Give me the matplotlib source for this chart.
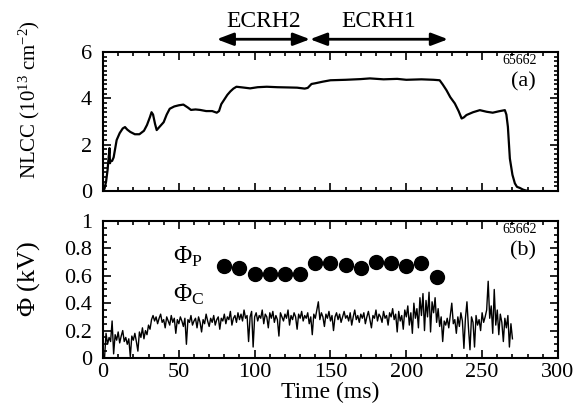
import matplotlib
matplotlib.use('Agg')
import matplotlib.pyplot as plt
from matplotlib.ticker import MultipleLocator

plt.rcParams['font.family'] = ['Liberation Serif', 'DejaVu Serif']
plt.rcParams['mathtext.fontset'] = 'custom'
plt.rcParams['mathtext.rm'] = 'Liberation Serif'
plt.rcParams['mathtext.it'] = 'Liberation Serif:italic'

# NLCC trace (panel a)
nlcc_t = [0, 1, 2, 3, 3.5, 4.3, 4.6, 5, 6, 7, 9, 11, 13, 14.5, 16, 18, 21, 24, 27, 29,
          31, 32, 33, 34.3, 35.4, 37, 40, 42, 44, 47, 50, 53, 56, 58, 61, 64, 68, 72, 75, 76.5,
          78, 80, 82, 84, 86, 88, 92, 97, 102, 108, 115, 122, 128, 133, 135, 137.5, 140, 145, 150, 160,
          170, 176, 185, 194, 200, 210, 218, 222, 224, 226.5, 229, 232, 234.5, 236.5, 238, 239.7, 244, 248.5, 253, 257,
          261, 265, 266, 267, 268.3, 270, 271.6, 273, 275, 277, 279, 281]
nlcc = [0.0, 0.1, 0.4, 0.9, 1.3, 1.85, 1.2, 1.3, 1.3, 1.45, 2.2, 2.5, 2.7, 2.76, 2.65, 2.55, 2.45, 2.45, 2.6, 2.85,
        3.2, 3.4, 3.3, 2.9, 2.63, 2.75, 2.97, 3.3, 3.55, 3.65, 3.7, 3.73, 3.6, 3.5, 3.52, 3.5, 3.45, 3.45, 3.38, 3.45,
        3.75, 3.95, 4.15, 4.3, 4.42, 4.5, 4.47, 4.43, 4.48, 4.5, 4.48, 4.47, 4.46, 4.42, 4.45, 4.62, 4.65, 4.72, 4.78, 4.8,
        4.83, 4.86, 4.82, 4.84, 4.8, 4.82, 4.8, 4.78, 4.6, 4.35, 4.05, 3.78, 3.45, 3.13, 3.18, 3.28, 3.4, 3.49, 3.42, 3.38,
        3.44, 3.49, 3.3, 2.77, 1.4, 0.7, 0.33, 0.18, 0.13, 0.06, 0.02, 0.0]

# plasma potential points (panel b)
phi_p_t = [80, 90, 100, 110, 120, 130, 140, 150, 160, 170, 180, 190, 200, 210, 220]
phi_p = [0.67, 0.66, 0.61, 0.61, 0.61, 0.61, 0.69, 0.69, 0.68, 0.66, 0.70, 0.69, 0.67, 0.69, 0.59]

# central potential trace, one sample per ms from t = 1 ms
phi_c_t = list(range(1, 271))
phi_c = [0.00, 0.18, 0.10, 0.15, 0.12, 0.27, 0.03, 0.17, 0.13, 0.19,
         0.11, 0.16, 0.20, 0.12, 0.15, 0.10, 0.14, 0.01, 0.16, 0.13,
         0.18, 0.12, 0.05, 0.19, 0.15, 0.22, 0.14, 0.20, 0.17, 0.24,
         0.21, 0.28, 0.31, 0.27, 0.30, 0.25, 0.29, 0.32, 0.26, 0.28,
         0.22, 0.30, 0.27, 0.24, 0.31, 0.26, 0.29, 0.18, 0.28, 0.25,
         0.30, 0.27, 0.23, 0.29, 0.10, 0.28, 0.26, 0.31, 0.24, 0.27,
         0.29, 0.22, 0.30, 0.26, 0.19, 0.28, 0.25, 0.32, 0.27, 0.23,
         0.29, 0.26, 0.31, 0.24, 0.28, 0.30, 0.21, 0.29, 0.27, 0.32,
         0.25, 0.30, 0.28, 0.34, 0.24, 0.29, 0.31, 0.26, 0.33, 0.28,
         0.32, 0.27, 0.35, 0.29, 0.31, 0.12, 0.30, 0.34, 0.08, 0.30,
         0.33, 0.27, 0.31, 0.29, 0.35, 0.25, 0.32, 0.30, 0.22, 0.33,
         0.29, 0.34, 0.26, 0.31, 0.28, 0.16, 0.33, 0.30, 0.27, 0.32,
         0.29, 0.35, 0.24, 0.31, 0.28, 0.33, 0.30, 0.21, 0.32, 0.29,
         0.34, 0.27, 0.31, 0.29, 0.33, 0.25, 0.30, 0.17, 0.32, 0.29,
         0.35, 0.41, 0.28, 0.33, 0.30, 0.23, 0.32, 0.29, 0.34, 0.27,
         0.31, 0.20, 0.30, 0.33, 0.28, 0.32, 0.26, 0.30, 0.34, 0.29,
         0.31, 0.27, 0.33, 0.24, 0.30, 0.35, 0.28, 0.31, 0.26, 0.32,
         0.29, 0.33, 0.25, 0.30, 0.34, 0.28, 0.22, 0.31, 0.29, 0.35,
         0.27, 0.32, 0.30, 0.26, 0.34, 0.29, 0.31, 0.24, 0.33, 0.30,
         0.36, 0.28, 0.32, 0.19, 0.34, 0.27, 0.31, 0.21, 0.35, 0.30,
         0.38, 0.24, 0.33, 0.18, 0.40, 0.29, 0.36, 0.22, 0.44, 0.31,
         0.47, 0.20, 0.42, 0.30, 0.48, 0.19, 0.41, 0.33, 0.44, 0.26,
         0.36, 0.23, 0.30, 0.12, 0.27, 0.24, 0.29, 0.22, 0.31, 0.40,
         0.25, 0.28, 0.18, 0.30, 0.23, 0.33, 0.27, 0.07, 0.29, 0.41,
         0.22, 0.06, 0.30, 0.26, 0.08, 0.31, 0.24, 0.28, 0.20, 0.33,
         0.26, 0.30, 0.35, 0.56, 0.29, 0.38, 0.18, 0.50, 0.24, 0.35,
         0.17, 0.32, 0.26, 0.12, 0.29, 0.22, 0.31, 0.08, 0.25, 0.14]

ecrh2 = (75, 136.5)
ecrh1 = (136.5, 227.5)

fig = plt.figure(figsize=(5.81, 4.03), dpi=100)
ax1 = fig.add_axes([0.1773, 0.526, 0.783, 0.345])
ax2 = fig.add_axes([0.1773, 0.1117, 0.783, 0.340])

for ax in (ax1, ax2):
    ax.set_xlim(0, 300)
    ax.xaxis.set_major_locator(MultipleLocator(50))
    ax.xaxis.set_minor_locator(MultipleLocator(10))
    ax.tick_params(which='both', direction='in', top=True, right=True, labelsize=16, width=1.2)
    ax.tick_params(which='major', length=6)
    ax.tick_params(which='minor', length=3)
    ax.tick_params(axis='y', pad=8)
    for s in ax.spines.values():
        s.set_linewidth(1.5)

# panel a
ax1.plot(nlcc_t, nlcc, color='black', lw=1.6)
ax1.set_ylim(0, 6)
ax1.yaxis.set_major_locator(MultipleLocator(2))
ax1.yaxis.set_minor_locator(MultipleLocator(0.2))
ax1.tick_params(labelbottom=False)
ax1.set_ylabel('NLCC (10$^{13}$ cm$^{-2}$)', fontsize=15)
ax1.yaxis.set_label_coords(-0.135, 0.66)
ax1.text(275, 5.62, '65662', fontsize=10, ha='center', va='center')
ax1.text(277, 4.72, '(a)', fontsize=16, ha='center', va='center')

for (x0, x1), name in zip((ecrh2, ecrh1), ('ECRH2', 'ECRH1')):
    ax1.annotate('', xy=(x0, 6.55), xytext=(x1, 6.55), annotation_clip=False,
                 arrowprops=dict(arrowstyle='<|-|>,head_length=1.0,head_width=0.38',
                                 color='black', lw=2, shrinkA=0, shrinkB=0))
    ax1.text((x0 + x1) / 2, 7.3, name, fontsize=17, ha='center', va='center')

# panel b
ax2.plot(phi_c_t, phi_c, color='black', lw=1.0)
ax2.scatter(phi_p_t, phi_p, s=100, color='black', zorder=3)
ax2.set_ylim(0, 1)
ax2.yaxis.set_major_locator(MultipleLocator(0.2))
ax2.yaxis.set_minor_locator(MultipleLocator(0.05))
ax2.yaxis.set_major_formatter(plt.FuncFormatter(lambda v, p: '%g' % round(v, 1)))
ax2.set_ylabel(r'$\Phi$ (kV)', fontsize=19)
ax2.yaxis.set_label_coords(-0.135, 0.58)
ax2.set_xlabel('Time (ms)', fontsize=17, labelpad=0)
ax2.text(46, 0.74, r'$\Phi_\mathrm{P}$', fontsize=18, ha='left', va='center')
ax2.text(46, 0.46, r'$\Phi_\mathrm{C}$', fontsize=18, ha='left', va='center')
ax2.text(275, 0.935, '65662', fontsize=10, ha='center', va='center')
ax2.text(277, 0.78, '(b)', fontsize=16, ha='center', va='center')

fig.savefig('out.png', dpi=100)
